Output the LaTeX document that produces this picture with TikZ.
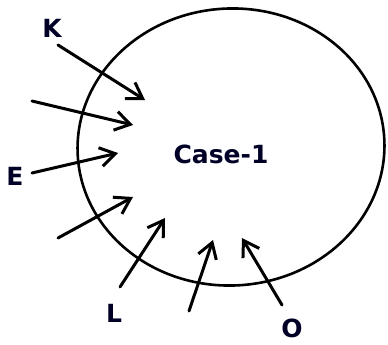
\documentclass[tikz,border=0pt]{standalone}
\usepackage{fontspec}
\setmainfont{DejaVu Sans}
\usetikzlibrary{arrows.meta, shapes.geometric}

\begin{document}
\begin{tikzpicture}[
  x=1pt, y=-1pt,
  lbl/.style={font=\bfseries\fontsize{25}{29}\selectfont, inner sep=0pt, text=black!85!blue},
  arr/.style={-{Straight Barb[length=15pt, width=19pt, line width=3pt]}, line width=3pt, line cap=round}
]
\useasboundingbox (0,0) rectangle (388,345);

% boundary
\node[ellipse, draw, line width=2.6pt, minimum width=307pt, minimum height=277pt,
  rotate=3] (bnd) at (231,147) {};
\node[lbl] (case) at (221,154) {Case-1};

% labels
\node[lbl] (K) at (52,28) {K};
\node[lbl] (E) at (15,176) {E};
\node[lbl] (L) at (114,313) {L};
\node[lbl] (O) at (292,328) {O};

% arrow ends
\coordinate (k0) at (58,45);   \coordinate (k1) at (145,100);
\coordinate (a0) at (32,101);  \coordinate (a1) at (133,125);
\coordinate (e0) at (32,173);  \coordinate (e1) at (118,153);
\coordinate (b0) at (58,238);  \coordinate (b1) at (133,197);
\coordinate (l0) at (120,287); \coordinate (l1) at (165,218);
\coordinate (c0) at (189,311); \coordinate (c1) at (213,240);
\coordinate (o0) at (282,305); \coordinate (o1) at (242,238);

\draw[arr] (k0) -- (k1);
\draw[arr] (a0) -- (a1);
\draw[arr] (e0) -- (e1);
\draw[arr] (b0) -- (b1);
\draw[arr] (l0) -- (l1);
\draw[arr] (c0) -- (c1);
\draw[arr] (o0) -- (o1);

\end{tikzpicture}
\end{document}
